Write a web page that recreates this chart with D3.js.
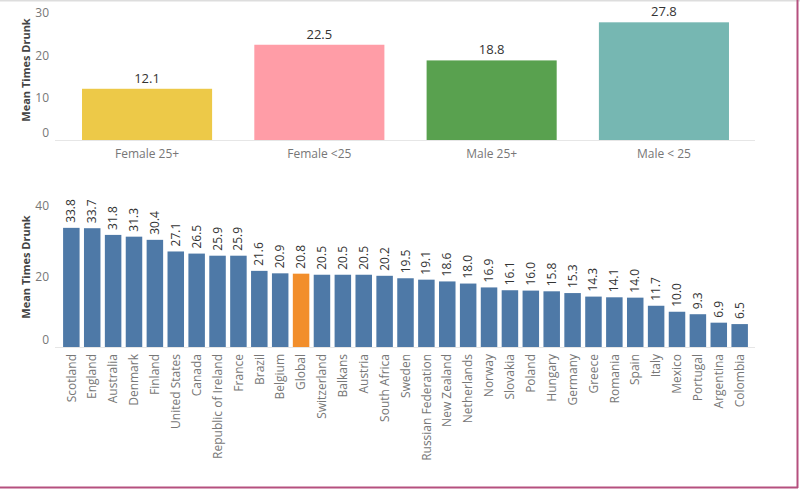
<!DOCTYPE html>
<html>
<head>
<meta charset="utf-8">
<script src="https://cdn.jsdelivr.net/npm/d3@7"></script>
<style>
  body { margin: 0; background: #fff; }
  #chart { position: relative; width: 800px; height: 489px; }
  #chart svg { position: absolute; left: 0; top: 0; }
  .axis text { font-family: "Open Sans", sans-serif; fill: #777; }
  .axis path, .axis line { stroke: none; }
  .ytitle { font-family: "Open Sans", sans-serif; font-weight: bold; fill: #444; font-size: 11px; }
</style>
</head>
<body>
<div id="chart"></div>
<script>
  var width = 800, height = 489;

  // top chart: groups
  const groups = ['Female 25+', 'Female <25', 'Male 25+', 'Male < 25'];
  const groupValues = [12.1, 22.5, 18.8, 27.8];
  const groupColors = ['#EDC948', '#FF9DA7', '#59A14F', '#76B7B2'];
  const topTicks = [0, 10, 20, 30];

  // bottom chart: countries
  const countries = ['Scotland', 'England', 'Australia', 'Denmark', 'Finland', 'United States',
    'Canada', 'Republic of Ireland', 'France', 'Brazil', 'Belgium', 'Global', 'Switzerland',
    'Balkans', 'Austria', 'South Africa', 'Sweden', 'Russian Federation', 'New Zealand',
    'Netherlands', 'Norway', 'Slovakia', 'Poland', 'Hungary', 'Germany', 'Greece', 'Romania',
    'Spain', 'Italy', 'Mexico', 'Portugal', 'Argentina', 'Colombia'];
  const countryValues = [33.8, 33.7, 31.8, 31.3, 30.4, 27.1, 26.5, 25.9, 25.9, 21.6, 20.9, 20.8,
    20.5, 20.5, 20.5, 20.2, 19.5, 19.1, 18.6, 18.0, 16.9, 16.1, 16.0, 15.8, 15.3, 14.3, 14.1,
    14.0, 11.7, 10.0, 9.3, 6.9, 6.5];
  const bottomTicks = [0, 20, 40];

  var svg = d3.select('#chart')
    .append('svg')
    .attr('width', width)
    .attr('height', height);

  // frame of the screenshot
  svg.append('line').attr('x1', 0).attr('x2', width).attr('y1', 0.5).attr('y2', 0.5)
    .attr('stroke', '#ddd').attr('stroke-width', 2);
  svg.append('line').attr('x1', 797.5).attr('x2', 797.5).attr('y1', 0).attr('y2', 488)
    .attr('stroke', '#b5507f').attr('stroke-width', 2);
  svg.append('line').attr('x1', 0).attr('x2', 798).attr('y1', 487.5).attr('y2', 487.5)
    .attr('stroke', '#b5507f').attr('stroke-width', 2);

  // ---- top chart
  var xTop = d3.scaleBand()
    .domain(groups)
    .range([61, 750])
    .paddingInner(0.245)
    .paddingOuter(0.122);

  var yTop = d3.scaleLinear()
    .domain([0, 30])
    .range([140, 13]);

  svg.append('line')
    .attr('x1', 55).attr('x2', 755)
    .attr('y1', yTop(0) + 0.5).attr('y2', yTop(0) + 0.5)
    .attr('stroke', '#e6e6e6');

  svg.selectAll('.gbar')
    .data(groups)
    .enter()
    .append('rect')
    .attr('class', 'gbar')
    .attr('x', function(d){ return xTop(d); })
    .attr('width', xTop.bandwidth())
    .attr('y', function(d, i){ return yTop(groupValues[i]); })
    .attr('height', function(d, i){ return yTop(0) - yTop(groupValues[i]); })
    .attr('fill', function(d, i){ return groupColors[i]; });

  svg.selectAll('.glabel')
    .data(groups)
    .enter()
    .append('text')
    .attr('class', 'glabel')
    .attr('x', function(d){ return xTop(d) + xTop.bandwidth() / 2; })
    .attr('y', function(d, i){ return yTop(groupValues[i]) - 6; })
    .attr('text-anchor', 'middle')
    .style('font-family', '"Open Sans", sans-serif')
    .style('font-size', '13px')
    .style('fill', '#333')
    .text(function(d, i){ return groupValues[i].toFixed(1); });

  var xTopAxis = svg.append('g')
    .attr('class', 'axis')
    .attr('transform', 'translate(0,' + yTop(0) + ')')
    .call(d3.axisBottom(xTop).tickSize(0).tickPadding(9));
  xTopAxis.selectAll('text').style('font-size', '12px');

  var yTopAxis = svg.append('g')
    .attr('class', 'axis')
    .attr('transform', 'translate(55,0)')
    .call(d3.axisLeft(yTop).tickValues(topTicks).tickSize(0).tickPadding(6));
  yTopAxis.selectAll('text').style('font-size', '12px')
    .attr('dy', function(d){ return d === 0 ? '-0.3em' : '0.32em'; });

  svg.append('text')
    .attr('class', 'ytitle')
    .attr('transform', 'translate(30,' + 70 + ') rotate(-90)')
    .attr('text-anchor', 'middle')
    .text('Mean Times Drunk');

  // ---- bottom chart
  var xBot = d3.scaleBand()
    .domain(countries)
    .range([61, 750])
    .paddingInner(0.21)
    .paddingOuter(0.1);

  var yBot = d3.scaleLinear()
    .domain([0, 40])
    .range([347, 206]);

  svg.append('line')
    .attr('x1', 55).attr('x2', 755)
    .attr('y1', yBot(0) + 0.5).attr('y2', yBot(0) + 0.5)
    .attr('stroke', '#e6e6e6');

  svg.selectAll('.cbar')
    .data(countries)
    .enter()
    .append('rect')
    .attr('class', 'cbar')
    .attr('x', function(d){ return xBot(d); })
    .attr('width', xBot.bandwidth())
    .attr('y', function(d, i){ return yBot(countryValues[i]); })
    .attr('height', function(d, i){ return yBot(0) - yBot(countryValues[i]); })
    .attr('fill', function(d){ return d === 'Global' ? '#F28E2B' : '#4E79A7'; });

  svg.selectAll('.clabel')
    .data(countries)
    .enter()
    .append('text')
    .attr('class', 'clabel')
    .attr('transform', function(d, i){
      var cx = xBot(d) + xBot.bandwidth() / 2 + 4;
      return 'translate(' + cx + ',' + (yBot(countryValues[i]) - 5) + ') rotate(-90)';
    })
    .style('font-family', '"Open Sans", sans-serif')
    .style('font-size', '12px')
    .style('fill', '#333')
    .text(function(d, i){ return countryValues[i].toFixed(1); });

  var xBotAxis = svg.append('g')
    .attr('class', 'axis')
    .attr('transform', 'translate(0,' + yBot(0) + ')')
    .call(d3.axisBottom(xBot).tickSize(0).tickPadding(6));
  xBotAxis.selectAll('text')
    .style('font-size', '12px')
    .attr('text-anchor', 'end')
    .attr('dy', '0.35em')
    .attr('transform', 'translate(0,6) rotate(-90)')
    .attr('y', 0)
    .attr('x', -1);

  var yBotAxis = svg.append('g')
    .attr('class', 'axis')
    .attr('transform', 'translate(55,0)')
    .call(d3.axisLeft(yBot).tickValues(bottomTicks).tickSize(0).tickPadding(6));
  yBotAxis.selectAll('text').style('font-size', '12px')
    .attr('dy', function(d){ return d === 0 ? '-0.3em' : '0.32em'; });

  svg.append('text')
    .attr('class', 'ytitle')
    .attr('transform', 'translate(30,' + 267 + ') rotate(-90)')
    .attr('text-anchor', 'middle')
    .text('Mean Times Drunk');
</script>
</body>
</html>
